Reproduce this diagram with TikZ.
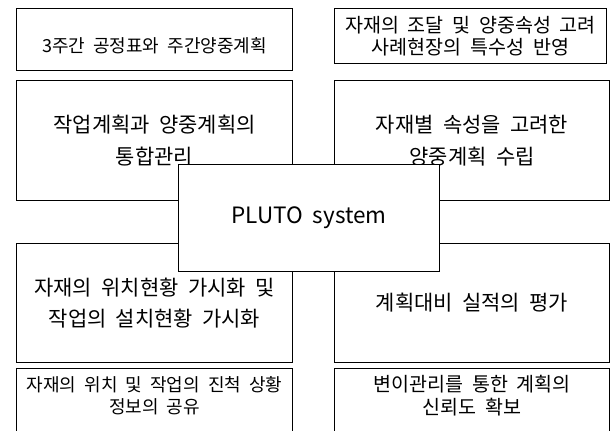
\documentclass[tikz,border=0pt]{standalone}
\usepackage{fontspec}
\setmainfont{Noto Sans CJK KR}[WordSpace=2]

\begin{document}
\begin{tikzpicture}[x=0.025cm,y=-0.025cm,
	box/.style={draw,fill=white,line width=0.7pt,inner sep=0pt,align=center,anchor=north west},
	big/.style={font=\fontsize{14.9}{22.5}\selectfont},
	small/.style={font=\fontsize{12.8}{16}\selectfont}]
	\clip (0,0) rectangle (610,430);
	\fill[white] (0,0) rectangle (610,430);
	% left column
	\node[box,small,minimum width=6.9cm,minimum height=1.55cm,text height=0.75cm,text depth=0.1cm] (weekly) at (16,8) {3주간 공정표와 주간양중계획};
	\node[box,big,minimum width=6.9cm,minimum height=3cm] (integr) at (16,80) {작업계획과 양중계획의\\통합관리};
	\node[box,big,minimum width=6.9cm,minimum height=2.975cm] (visual) at (16,243) {자재의 위치현황 가시화 및\\작업의 설치현황 가시화};
	\node[box,small,minimum width=6.9cm,minimum height=1.925cm,text depth=0.6cm] (share) at (16,368) {자재의 위치 및 작업의 진척 상황\\정보의 공유};
	% right column
	\node[box,small,font=\fontsize{13.9}{16}\selectfont,minimum width=6.8cm,minimum height=1.375cm] (supply) at (334,8) {자재의 조달 및 양중속성 고려\\사례현장의 특수성 반영};
	\node[box,big,minimum width=6.875cm,minimum height=3cm] (attrib) at (334,80) {자재별 속성을 고려한\\양중계획 수립};
	\node[box,big,minimum width=6.875cm,minimum height=2.975cm] (eval) at (334,243) {계획대비 실적의 평가};
	\node[box,small,font=\fontsize{13.9}{16}\selectfont,minimum width=6.875cm,minimum height=1.925cm,text depth=0.6cm] (trust) at (334,368) {변이관리를 통한 계획의\\신뢰도 확보};
	% centre
	\node[box,font=\fontsize{16}{20}\selectfont,minimum width=6.525cm,minimum height=2.675cm] (pluto) at (178,164) {PLUTO system};
\end{tikzpicture}
\end{document}
